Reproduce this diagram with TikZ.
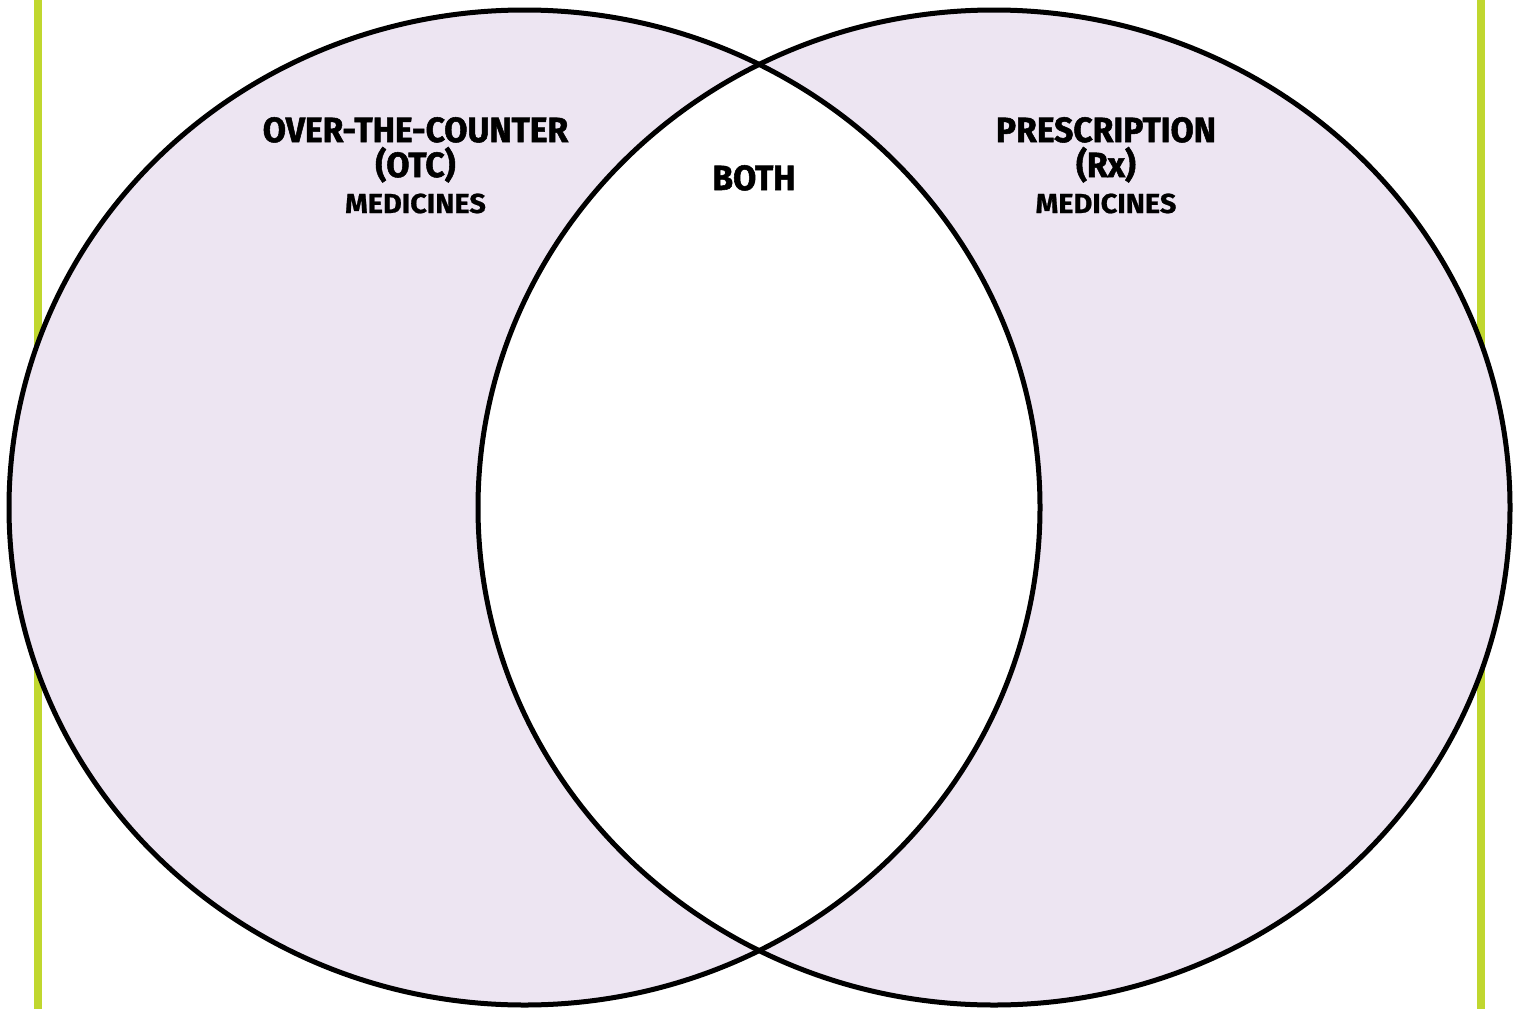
\documentclass[tikz,border=0pt]{standalone}
\usepackage{fontspec}
\setmainfont{Fira Sans}
\newfontfamily\hdfont[FakeStretch=0.96,FakeBold=1.5]{Fira Sans}
\newfontfamily\subfont[FakeStretch=1.05,FakeBold=0.8]{Fira Sans}
\definecolor{lav}{HTML}{EDE5F2}
\definecolor{lime}{HTML}{C0D72F}
\tikzset{
  big/.style={font=\hdfont\bfseries\fontsize{35}{36}\selectfont, anchor=base, inner sep=0pt},
  small/.style={font=\subfont\bfseries\fontsize{27.5}{28}\selectfont, anchor=base, inner sep=0pt},
  outline/.style={draw=black, line width=5pt},
  rail/.style={draw=lime, line width=8pt}
}
\begin{document}
\begin{tikzpicture}[x=1pt,y=-1pt]
\useasboundingbox (0,0) rectangle (1520,1009);
\fill[white] (0,0) rectangle (1520,1009);
\draw[rail] (38,0) -- (38,1009);
\draw[rail] (1481,0) -- (1481,1009);
\fill[lav] (524.5,507.5) ellipse [x radius=515.5, y radius=497.5];
\fill[lav] (994,507.5) ellipse [x radius=516, y radius=497.5];
\begin{scope}
  \clip (524.5,507.5) ellipse [x radius=515.5, y radius=497.5];
  \fill[white] (994,507.5) ellipse [x radius=516, y radius=497.5];
\end{scope}
\draw[outline] (524.5,507.5) ellipse [x radius=515.5, y radius=497.5];
\draw[outline] (994,507.5) ellipse [x radius=516, y radius=497.5];
\node[big] (otc1) at (415.5,142) {OVER-THE-COUNTER};
\node[big] (otc2) at (415.5,177) {(OTC)};
\node[small] (otc3) at (415.5,213) {MEDICINES};
\node[big] (both) at (754,190) {BOTH};
\node[big] (rx1) at (1106,142) {PRESCRIPTION};
\node[big] (rx2) at (1106,177) {(Rx)};
\node[small] (rx3) at (1106,213) {MEDICINES};
\end{tikzpicture}
\end{document}
